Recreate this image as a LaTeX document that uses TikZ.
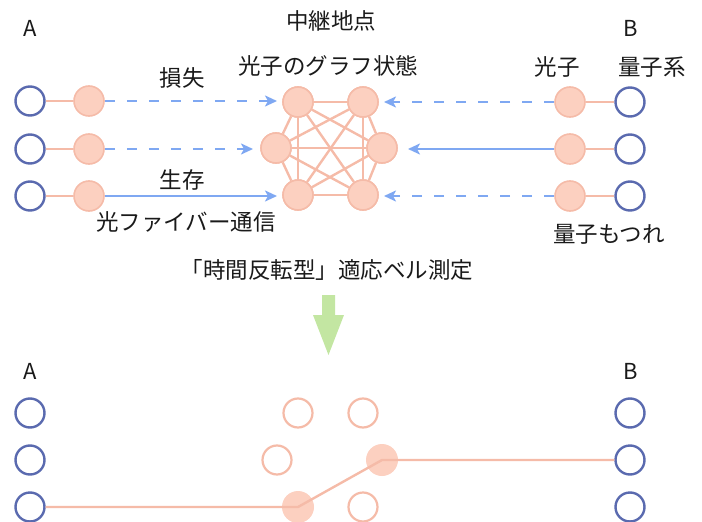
\documentclass[tikz,border=0pt]{standalone}
\usepackage{fontspec}
\setmainfont{Noto Sans CJK JP}
\usetikzlibrary{arrows.meta}
\definecolor{qblue}{HTML}{5A6AAF}
\definecolor{pfill}{HTML}{FCD0C0}
\definecolor{pline}{HTML}{F5BBA8}
\definecolor{abl}{HTML}{7FA8F2}
\definecolor{grn}{HTML}{C3E6A2}
\definecolor{txt}{HTML}{1A1A1A}
\tikzset{
  qsys/.style={circle,draw=qblue,line width=2.4pt,fill=white,minimum size=29pt,inner sep=0pt},
  phot/.style={circle,draw=pline,line width=1.6pt,fill=pfill,minimum size=30pt,inner sep=0pt},
  pout/.style={circle,draw=pline,line width=2.2pt,fill=white,minimum size=29pt,inner sep=0pt},
  pdot/.style={circle,fill=pfill,minimum size=32pt,inner sep=0pt},
  pl/.style={draw=pline,line width=2.4pt},
  gedge/.style={draw=pline,line width=2.4pt},
  arrsolid/.style={draw=abl,line width=2.4pt,-{Stealth[length=12pt,width=11pt,inset=3pt]}},
  arrdash/.style={arrsolid,dash pattern=on 10pt off 12pt},
  lbl/.style={text=txt,inner sep=0pt,font=\fontsize{22.5}{26}\selectfont},
  lat/.style={text=txt,inner sep=0pt,font=\fontsize{22}{26}\selectfont}
}
\begin{document}
\begin{tikzpicture}[x=1pt,y=-1pt]
\useasboundingbox (0,0) rectangle (702,522);
% ---------- top section ----------
% graph state nodes
\node[phot] (g1) at (298,102) {};
\node[phot] (g2) at (363,102) {};
\node[phot] (g3) at (276,148) {};
\node[phot] (g4) at (382,148) {};
\node[phot] (g5) at (298,195) {};
\node[phot] (g6) at (363,195) {};
\foreach \a/\b in {g1/g2,g1/g3,g1/g4,g1/g5,g1/g6,g2/g3,g2/g4,g2/g5,g2/g6,g3/g4,g3/g5,g3/g6,g4/g5,g4/g6,g5/g6}
  \path[gedge] (\a) -- (\b);
\foreach \n in {g1,g2,g3,g4,g5,g6} \node[phot] at (\n) {};
% left side
\node[qsys] (a1) at (30,101) {};
\node[qsys] (a2) at (30,149) {};
\node[qsys] (a3) at (30,196) {};
\node[phot] (pa1) at (89,101) {};
\node[phot] (pa2) at (89,149) {};
\node[phot] (pa3) at (89,196) {};
\coordinate (ta1) at (277,101);
\coordinate (ta2) at (253,149);
\coordinate (ta3) at (277,196);
\foreach \i in {1,2,3} \path[pl] (a\i) -- (pa\i);
\path[arrdash] (pa1) -- (ta1);
\path[arrdash] (pa2) -- (ta2);
\path[arrsolid] (pa3) -- (ta3);
% right side
\node[qsys] (b1) at (630,102) {};
\node[qsys] (b2) at (630,149) {};
\node[qsys] (b3) at (630,196) {};
\node[phot] (pb1) at (570,102) {};
\node[phot] (pb2) at (570,149) {};
\node[phot] (pb3) at (570,196) {};
\coordinate (tb1) at (384,102);
\coordinate (tb2) at (408,149);
\coordinate (tb3) at (384,196);
\foreach \i in {1,2,3} \path[pl] (b\i) -- (pb\i);
\path[arrdash] (pb1) -- (tb1);
\path[arrsolid] (pb2) -- (tb2);
\path[arrdash] (pb3) -- (tb3);
% labels
\node[lat] (lA) at (30,28) {A};
\node[lat] (lB) at (631,28) {B};
\node[lbl] (lrel) at (331,21) {中継地点};
\node[lbl] (lgs) at (328,66) {光子のグラフ状態};
\node[lbl] (lloss) at (182,78) {損失};
\node[lbl] (lsurv) at (182,180) {生存};
\node[lbl] (lfib) at (186,222) {光ファイバー通信};
\node[lbl] (lph) at (557,67) {光子};
\node[lbl] (lqs) at (652,67) {量子系};
\node[lbl] (lent) at (609,234) {量子もつれ};
\node[lbl] (lbell) at (327,270) {「時間反転型」適応ベル測定};
% green arrow
\fill[grn] (322,295) -- (335,295) -- (335,315) -- (344,315) -- (328.5,355) -- (313,315) -- (322,315) -- cycle;
% ---------- bottom section ----------
\node[lat] (lA2) at (30,371) {A};
\node[lat] (lB2) at (631,371) {B};
\node[qsys] (c1) at (30,413) {};
\node[qsys] (c2) at (30,460) {};
\node[qsys] (c3) at (30,507) {};
\node[qsys] (d1) at (630,413) {};
\node[qsys] (d2) at (630,460) {};
\node[qsys] (d3) at (630,507) {};
\node[pout] (h1) at (298,413) {};
\node[pout] (h2) at (363,413) {};
\node[pout] (h3) at (277,460) {};
\node[pout] (h6) at (363,507) {};
\node[pdot] (h4) at (382,460) {};
\node[pdot] (h5) at (298,507) {};
\path[pl] (c3) -- (h5.center) -- (h4.center) -- (d2);
\end{tikzpicture}
\end{document}
